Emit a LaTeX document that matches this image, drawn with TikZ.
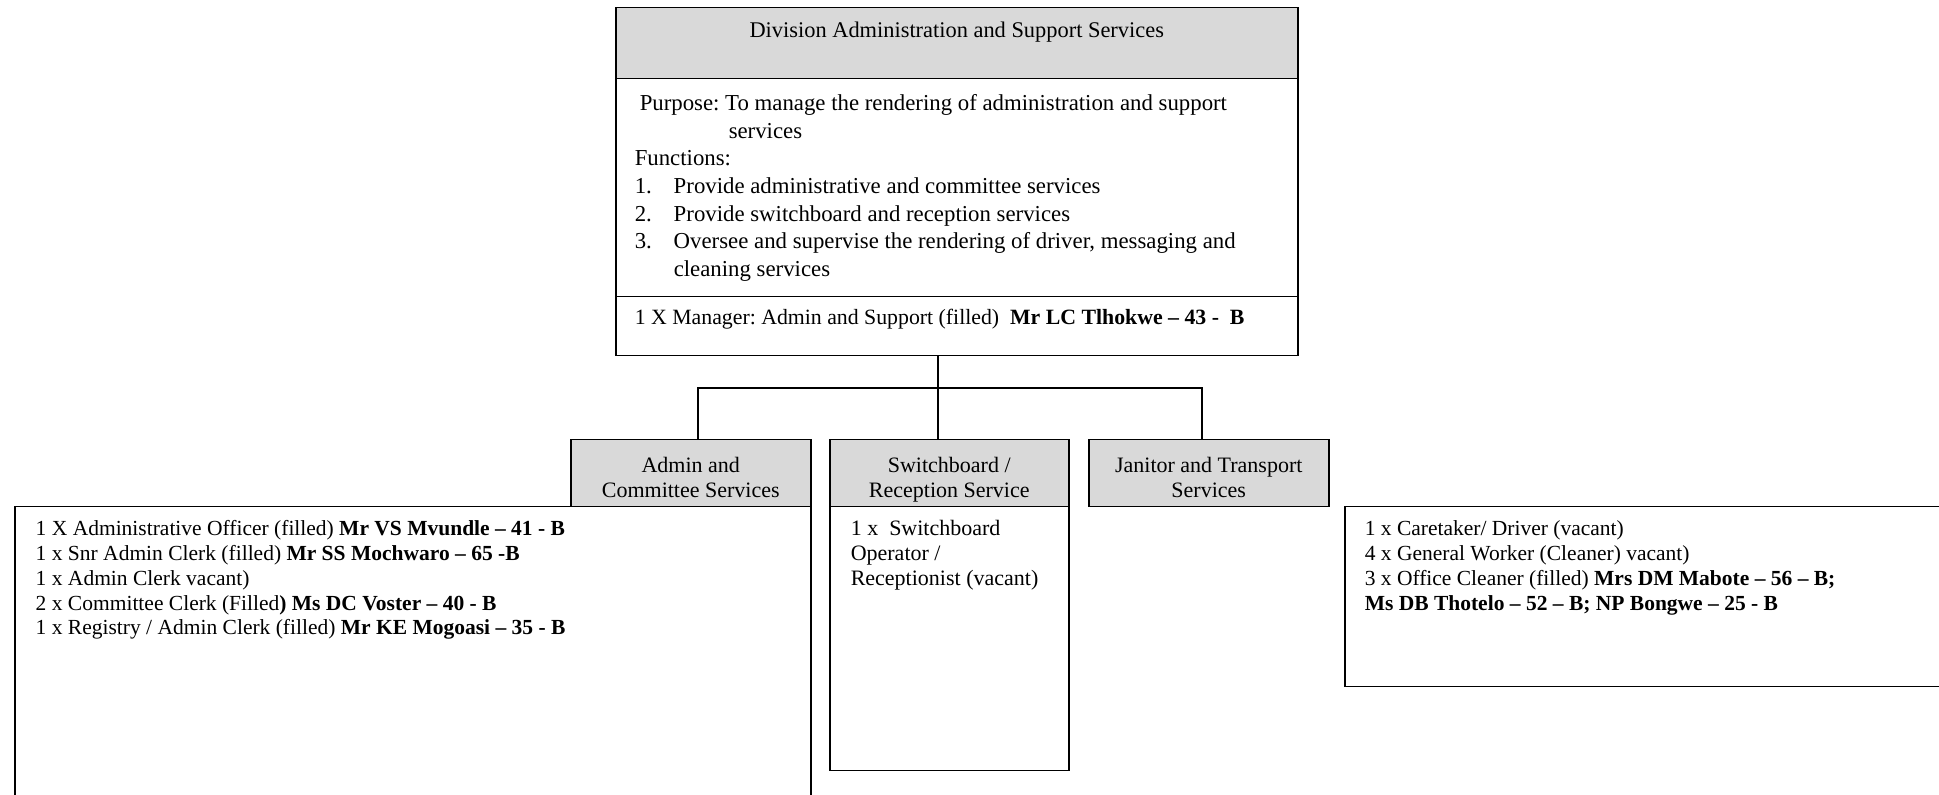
\documentclass[tikz,border=0pt]{standalone}
\usepackage{fontspec}
\setmainfont{Liberation Serif}
\usepackage{xcolor}
\definecolor{headgray}{HTML}{D9D9D9}
\newcommand\lnstrut{\rule{0pt}{8pt}}
\frenchspacing

\begin{document}
\begin{tikzpicture}[x=0.5pt, y=-0.5pt, line width=0.75pt,
      frame/.style={draw, rectangle, anchor=north west, inner sep=0pt},
      head/.style={frame, fill=headgray},
      body/.style={frame, fill=white},
      txt/.style={anchor=north west, inner sep=0pt, align=left,
                  font=\fontsize{11}{12.4}\selectfont},
      listtxt/.style={txt, font=\fontsize{10.75}{12.4}\selectfont},
      headtxt/.style={anchor=north, inner sep=0pt, align=center,
                  font=\fontsize{11}{12.4}\selectfont}]
      \useasboundingbox (0,0) rectangle (1939,795);

      % division box
      \node[head, minimum width=341pt, minimum height=35.5pt] (title) at (615,7) {};
      \node[body, minimum width=341pt, minimum height=109pt] (purpose) at (615,78) {};
      \node[body, minimum width=341pt, minimum height=29.5pt] (mgr) at (615,296) {};
      \node[headtxt, anchor=base, font=\fontsize{11.2}{12.4}\selectfont] (titletxt) at ([shift={(0,31)}]title.north)
            {Division Administration and Support Services};
      \node[txt, font=\fontsize{11.4}{13.8}\selectfont] (purposetxt) at ([shift={(19,16)}]purpose.north west)
            {\lnstrut\hspace*{2.5pt}Purpose: To manage the rendering of administration and support\\
             \hspace*{47pt}services\\
             Functions:\\
             \makebox[19.5pt][l]{1.}Provide administrative and committee services\\
             \makebox[19.5pt][l]{2.}Provide switchboard and reception services\\
             \makebox[19.5pt][l]{3.}Oversee and supervise the rendering of driver, messaging and\\
             \hspace*{19.5pt}cleaning services};
      \node[txt, font=\fontsize{10.9}{12.4}\selectfont] (mgrtxt) at ([shift={(19,12)}]mgr.north west)
            {\lnstrut 1 X Manager: Admin and Support (filled)\ \ \textbf{Mr LC Tlhokwe – 43 -\ \ B}};

      % unit headers
      \node[head, minimum width=120pt, minimum height=33.5pt] (adhead) at (570,439) {};
      \node[head, minimum width=119.5pt, minimum height=33.5pt] (swhead) at (829,439) {};
      \node[head, minimum width=120pt, minimum height=33.5pt] (jthead) at (1088,439) {};
      \node[headtxt] (adheadtxt) at ([shift={(0,17)}]adhead.north) {\lnstrut Admin and\\Committee Services};
      \node[headtxt] (swheadtxt) at ([shift={(0,17)}]swhead.north) {\lnstrut Switchboard /\\Reception Service};
      \node[headtxt] (jtheadtxt) at ([shift={(0,17)}]jthead.north) {\lnstrut Janitor and Transport\\Services};

      % unit posts
      \node[body, minimum width=398pt, minimum height=157pt] (adbody) at (14,506) {};
      \node[body, minimum width=119.5pt, minimum height=132pt] (swbody) at (829,506) {};
      \node[body, minimum width=308pt, minimum height=90pt] (jtbody) at (1344,506) {};
      \node[listtxt] (adbodytxt) at ([shift={(21,13)}]adbody.north west)
            {\lnstrut 1 X Administrative Officer (filled) \textbf{Mr VS Mvundle – 41 - B}\\
             1 x Snr Admin Clerk (filled) \textbf{Mr SS Mochwaro – 65 -B}\\
             1 x Admin Clerk vacant)\\
             2 x Committee Clerk (Filled\textbf{) Ms DC Voster – 40 - B}\\
             1 x Registry / Admin Clerk (filled) \textbf{Mr KE Mogoasi – 35 - B}};
      \node[txt] (swbodytxt) at ([shift={(21,13)}]swbody.north west)
            {\lnstrut 1 x\ \ Switchboard\\Operator /\\Receptionist (vacant)};
      \node[listtxt] (jtbodytxt) at ([shift={(20,13)}]jtbody.north west)
            {\lnstrut 1 x Caretaker/ Driver (vacant)\\
             4 x General Worker (Cleaner) vacant)\\
             3 x Office Cleaner (filled) \textbf{Mrs DM Mabote – 56 – B;}\\
             \textbf{Ms DB Thotelo – 52 – B; NP Bongwe – 25 - B}};

      % connectors
      \coordinate (bar) at (938,388);
      \coordinate (adtap) at (698,388);
      \coordinate (jttap) at (1202,388);
      \draw (mgr.south -| bar) -- (swhead.north -| bar);
      \draw (adhead.north -| adtap) |- (jttap) -- (jthead.north -| jttap);
    \end{tikzpicture}
\end{document}
